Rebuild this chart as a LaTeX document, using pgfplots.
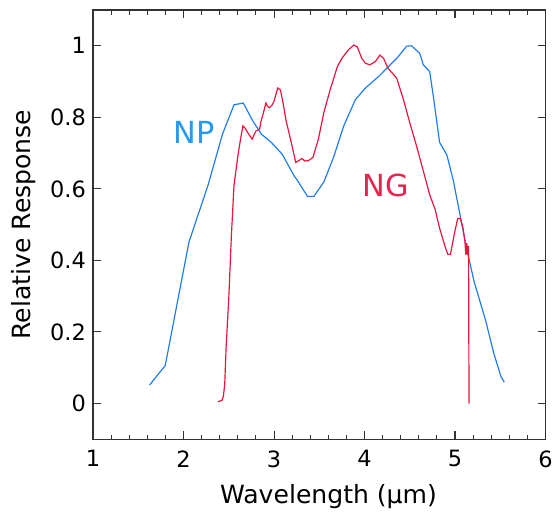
\documentclass[border=0pt]{standalone}
\usepackage{pgfplots}
\pgfplotsset{compat=1.18}
\usepackage{fontspec}
\setmainfont{DejaVu Sans}
\definecolor{npblue}{RGB}{30,125,235}
\definecolor{ngred}{RGB}{232,20,60}
\definecolor{nplabel}{RGB}{40,155,240}
\definecolor{nglabel}{RGB}{235,35,80}
\pgfplotstableread{
x y
1.625 0.052
1.797 0.106
2.06 0.452
2.27 0.610
2.43 0.753
2.557 0.835
2.66 0.840
2.765 0.790
2.86 0.753
2.97 0.730
3.09 0.697
3.22 0.637
3.26 0.623
3.37 0.579
3.44 0.579
3.55 0.619
3.66 0.690
3.77 0.776
3.90 0.850
4.01 0.882
4.155 0.914
4.265 0.942
4.374 0.970
4.465 0.999
4.52 1.000
4.61 0.979
4.65 0.947
4.72 0.928
4.76 0.860
4.83 0.730
4.91 0.695
4.98 0.625
5.05 0.535
5.12 0.443
5.21 0.342
5.34 0.231
5.43 0.139
5.51 0.074
5.545 0.060
}\np
\pgfplotstableread{
x y
2.38 0.005
2.425 0.009
2.44 0.020
2.455 0.055
2.47 0.157
2.49 0.249
2.50 0.296
2.527 0.462
2.557 0.609
2.60 0.692
2.63 0.740
2.656 0.776
2.68 0.770
2.71 0.757
2.758 0.739
2.78 0.752
2.80 0.762
2.84 0.767
2.857 0.790
2.88 0.810
2.91 0.840
2.93 0.830
2.95 0.827
2.98 0.835
3.00 0.845
3.04 0.882
3.07 0.877
3.10 0.840
3.13 0.794
3.19 0.730
3.24 0.674
3.28 0.680
3.31 0.685
3.34 0.678
3.38 0.679
3.43 0.688
3.49 0.739
3.55 0.813
3.62 0.877
3.70 0.942
3.75 0.965
3.82 0.988
3.88 1.002
3.92 0.997
3.97 0.965
4.01 0.951
4.06 0.947
4.12 0.956
4.17 0.974
4.21 0.965
4.26 0.937
4.355 0.910
4.43 0.850
4.50 0.785
4.575 0.720
4.65 0.650
4.72 0.584
4.78 0.543
4.83 0.490
4.885 0.443
4.92 0.417
4.95 0.417
4.99 0.471
5.03 0.517
5.06 0.517
5.09 0.489
5.11 0.453
5.12 0.416
5.13 0.448
5.14 0.416
5.15 0.440
5.155 0.000
}\ng
\begin{document}
\begin{tikzpicture}
\begin{axis}[name=ax, scale only axis, width=342.5pt, height=325pt,
  xmin=1, xmax=6, ymin=-0.1, ymax=1.1,
  xtick={1,2,3,4,5,6}, minor x tick num=4,
  ytick={0,0.2,0.4,0.6,0.8,1},
  yticklabels={0,0.2,0.4,0.6,0.8,1},
  tick align=inside, major tick length=6pt, minor tick length=3.5pt,
  axis line style={line width=1pt, black!80},
  tick style={line width=0.8pt, black!80},
  /pgf/number format/assume math mode=true,
  ticklabel style={font=\fontsize{17}{20}\selectfont},
  xticklabel style={yshift=-5pt},
  yticklabel style={xshift=-2pt},
  xlabel={Wavelength (μm)}, ylabel={Relative Response},
  label style={font=\fontsize{19}{23}\selectfont},
  xlabel style={yshift=-6pt, xshift=7pt},
  ylabel style={yshift=4pt},
  clip=false,
]
\addplot[npblue, line width=0.9pt] table[x=x,y=y] {\np};
\addplot[ngred, line width=0.9pt] table[x=x,y=y] {\ng};
\node[text=nplabel, font=\fontsize{23}{27}\selectfont] at (axis cs:2.12,0.758) {NP};
\node[text=nglabel, font=\fontsize{23}{27}\selectfont] at (axis cs:4.235,0.611) {NG};
\end{axis}
\path (ax.south west) +(-70.5pt,-54pt) (ax.north east) +(6pt,7.6pt);
\end{tikzpicture}
\end{document}
